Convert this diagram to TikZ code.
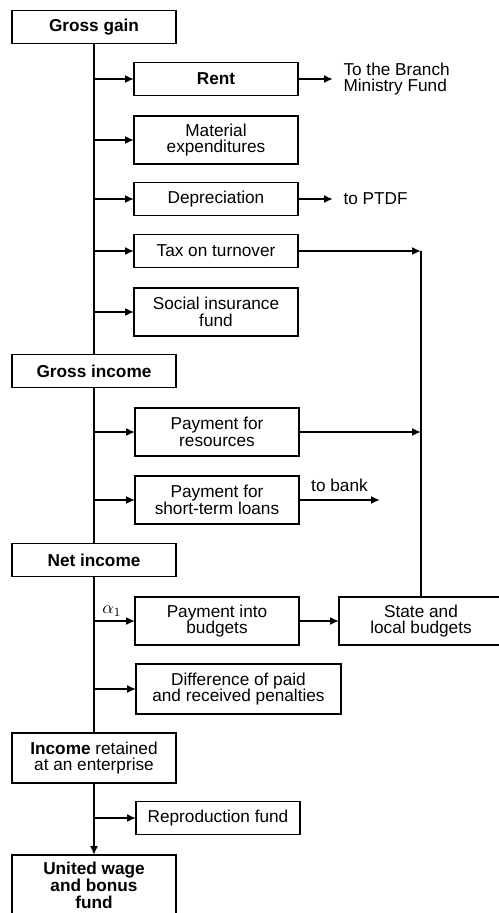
\documentclass[tikz,border=0pt]{standalone}
\usepackage{fontspec}
\setmainfont{Liberation Sans}
\usetikzlibrary{arrows.meta}

\begin{document}
\begin{tikzpicture}[x=0.02cm,y=-0.02cm,inner sep=0pt,outer sep=0pt,line width=1.1pt,
>={Latex[length=5pt,width=4.5pt]},font=\fontsize{9.8}{9.6}\selectfont,
mainblock/.style={draw,rectangle,align=center,minimum width=3.28cm,minimum height=0.66cm,line width=1.1pt},
subblock/.style={draw,rectangle,align=center,minimum width=3.28cm,minimum height=0.66cm,line width=1.1pt},
tallblock/.style={minimum height=0.96cm}]
\useasboundingbox (0,0) rectangle (499,913);
\clip (0,0) rectangle (499,913);
\draw (94,27) node[mainblock] (gain) {\textbf{Gross gain}};
\draw (216,79) node[subblock] (rent) {\textbf{Rent}};
\draw (216,140) node[subblock,tallblock] (material) {Material\\expenditures};
\draw (216,199) node[subblock] (deprec) {Depreciation};
\draw (216,251) node[subblock] (tax) {Tax on turnover};
\draw (216,312) node[subblock,tallblock] (social) {Social insurance\\fund};
\draw (94,371) node[mainblock] (grossinc) {\textbf{Gross income}};
\draw (217,432) node[subblock,tallblock] (resources) {Payment for\\resources};
\draw (217,500) node[subblock,tallblock] (loans) {Payment for\\short-term loans};
\draw (94,560) node[mainblock] (netinc) {\textbf{Net income}};
\draw (217,621) node[subblock,tallblock] (budgets) {Payment into\\budgets};
\draw (421,621) node[subblock,tallblock] (state) {State and\\local budgets};
\draw (238.5,689) node[subblock,minimum width=4.1cm,minimum height=1cm] (penalties) {Difference of paid\\and received penalties};
\draw (94,758) node[mainblock,minimum height=1cm] (retained) {\textbf{Income} retained\\at an enterprise};
\draw (218,818) node[subblock] (reprod) {Reproduction fund};
\draw (94,885) node[mainblock,minimum height=1.2cm] (wage) {\textbf{United wage}\\\textbf{and bonus}\\\textbf{fund}};
\draw (gain) -- (grossinc);
\draw (grossinc) -- (netinc);
\draw (netinc) -- (retained);
\draw[->] (retained) -- (wage);
\draw[->] (gain.south |- rent.west) -- (rent.west);
\draw[->] (gain.south |- material.west) -- (material.west);
\draw[->] (gain.south |- deprec.west) -- (deprec.west);
\draw[->] (gain.south |- tax.west) -- (tax.west);
\draw[->] (gain.south |- social.west) -- (social.west);
\draw[->] (grossinc.south |- resources.west) -- (resources.west);
\draw[->] (grossinc.south |- loans.west) -- (loans.west);
\draw[->] (netinc.south |- budgets.west) -- node[above=2.5pt,pos=0.44] (alpha) {$\alpha_1$} (budgets.west);
\draw[->] (netinc.south |- penalties.west) -- (penalties.west);
\draw[->] (retained.south |- reprod.west) -- (reprod.west);
\draw[->] (rent.east) -- ++(35,0) coordinate (rentout) node[right=6pt,align=left] (branchfund) {To the Branch\\Ministry Fund};
\draw[->] (deprec.east) -- ++(35,0) coordinate (deprecout) node[right=6pt] (ptdf) {to PTDF};
\draw[->] (loans.east) -- ++(81,0) coordinate (loansout) node[midway,above=5pt] (bank) {to bank};
\draw[->] (tax.east) -- (tax.east -| state.north);
\draw (tax.east -| state.north) -- (state.north);
\draw[->] (resources.east) -- (resources.east -| state.north);
\draw[->] (budgets) -- (state);
\end{tikzpicture}
\end{document}
